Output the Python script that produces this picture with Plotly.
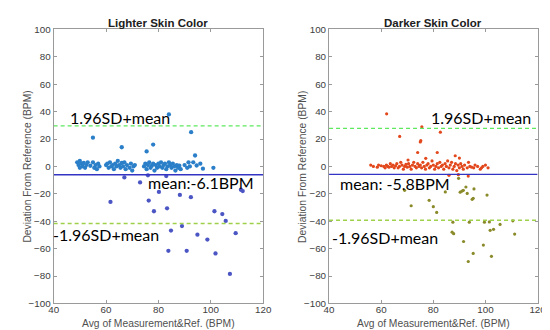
import plotly.graph_objects as go

# ---------------- data ----------------
# Lighter skin: points above the mean line
light_hi_x = [84, 55, 92.5, 66, 78, 75.5, 94, 93.3, 91.5, 94.6, 97, 101,
              49, 49.5, 50, 50.5, 51, 51.5, 52, 52.5, 53, 50, 54,
              55, 55.5, 56, 56.5, 57, 57.5,
              60, 60.5, 61, 61.5, 62, 62.5, 63, 63.5, 64,
              64.5, 65, 65.5, 66, 66.5, 67, 67.5, 68, 69, 69.5, 70, 70.5, 71,
              74.5, 75, 75.5, 76, 76.5, 77, 77.5, 78, 78.5, 79, 79.5, 80, 80.5, 81,
              81.5, 82, 82.5, 83, 83.5, 84, 84.5, 85, 85.5, 86, 86.5, 87, 87.5, 88, 88.5,
              90, 91, 92, 96]
light_hi_y = [38, 21, 25, 14, 16, 11, 8, 3, 3, 0.7, -1.6, -1,
              3, 1, 4, 2, 0, 2.5, -1, 1, 3, -1, 0.5,
              3, -1, 1, -2, 2, 0,
              1, 2, -1, 3, 0, 1, -2, 2, 0,
              4, 1, -1, 2.5, 0, 3, -2, 1, -1, 2, -3, 0, 1,
              0, 2, -2, 1, 3, -1, 0.5, 2, -3, 1, -1, 2, 0, 3,
              -1, 1, 2, -2, 0, 3, 1, -1, 2, 0, -3, 1, -1, 0.5, -2,
              1, -1, 0, 2]
# Lighter skin: points below the mean line
light_lo_x = [67, 73, 76, 83, 61.7, 76.3, 80.2, 88.2, 92.4, 78.3, 83.3, 101.4,
              104.4, 105.7, 111.5, 112.2, 84.8, 89, 83.8, 90.8, 94.9, 98.7, 101.8,
              109.5, 107.3]
light_lo_y = [-8, -11.7, -6.5, -7, -25.9, -24.9, -18.6, -20.8, -22.4, -32.7, -30.6, -32.7,
              -34.8, -39.8, -17, -18, -46.8, -43.5, -61.6, -61.6, -49.8, -53.4, -63.5,
              -48.7, -78.5]

# Darker skin: points above the mean line
dark_hi_x = [62.1, 75.6, 67.1, 82.7, 75.2, 75, 74, 81.5, 88.4, 90, 77.1, 70.3,
             56, 57, 58.5, 59, 60,
             61, 61.5, 62, 62.5, 63, 63.5, 64, 64.5, 65,
             65.5, 66, 66.5, 67, 67.5, 68, 68.5, 69, 69.5, 70,
             70.5, 71, 71.5, 72, 72.5, 73, 73.5, 74, 74.5, 75,
             75.5, 76, 76.5, 77, 77.5, 78, 78.5, 79, 79.5, 80,
             80.5, 81, 81.5, 82, 82.5, 83, 83.5, 84, 84.5, 85, 85.5,
             86, 86.5, 87, 87.5, 88, 88.5, 89, 89.5, 90, 90.5,
             91, 91.5, 92, 93, 93.5, 94,
             94.7, 95.5, 96, 97, 98, 98.5, 99, 100, 101,
             86, 89.6, 93.4]
dark_hi_y = [38.4, 28.9, 21.9, 25, 18.8, 17.9, 10.2, 10.2, 7.8, 6.1, 5.9, 4.7,
             1, 0, -0.5, 1, 0.5,
             0, -1, 1, 0, -0.5, 2, 0, 1, -1,
             0.5, 2, -1, 0, 3, 1, -2, 0, 1.5, -0.5,
             2, 0, -2, 1, 3, 0, -1, 2, 0, 1,
             -1, 3, 0, -2, 1, 2, -1, 0, 4, 1,
             -2, 0, 2, -1, 3, 0, 1, -2, 2, 0, 4,
             -1, 1, 3, -2, 0, 2, -3, 1, -1, 2,
             0, -2, 1, -1, 3, 0,
             -0.5, -1, 1, 0, -2, -1, 0, 1, -1,
             -6.5, -6, -7]
# Darker skin: points below the mean line
dark_lo_x = [89.7, 69, 84.6, 90.3, 91, 91.5, 92.5, 95.6, 93, 100.6, 94.9, 95.3,
             71.5, 78.4, 80, 81.3, 87.5, 93.8, 99.6, 101.5, 105.6, 110.5,
             87.2, 87.8, 101.8, 103.1, 111.2, 91.6, 99.2, 95.3, 102.3, 93.4]
dark_lo_y = [-8.7, -17.4, -18.6, -18.8, -18, -17.4, -15, -16.4, -19.7, -20.9, -24, -23.3,
             -28.7, -24.7, -29.4, -33.6, -40.7, -40.7, -40.7, -40.5, -42.3, -39.7,
             -48, -49.1, -46.6, -45.9, -49.4, -54.8, -57.4, -63.5, -65.6, -69.4]

light_stats = {"mean": -6.1, "upper": 29.6, "lower": -41.6}
dark_stats = {"mean": -5.8, "upper": 27.8, "lower": -39.3}

x_ticks = [40, 60, 80, 100, 120]
y_ticks = [-100, -80, -60, -40, -20, 0, 20, 40, 60, 80, 100]

titles = ["Lighter Skin Color", "Darker Skin Color"]
x_label = "Avg of Measurement&Ref. (BPM)"
y_label = "Deviation From Reference (BPM)"

# ---------------- figure ----------------
fig = go.Figure()

dom_left = [41.7 / 550, 256.7 / 550]
dom_right = [324.3 / 550, 538.3 / 550]
ydom = [1 - 299.4 / 330, 1 - 16 / 330]

fig.add_trace(go.Scatter(x=light_hi_x, y=light_hi_y, mode="markers", xaxis="x", yaxis="y",
                         marker=dict(size=4.3, color="#2a7fc8"), showlegend=False))
fig.add_trace(go.Scatter(x=light_lo_x, y=light_lo_y, mode="markers", xaxis="x", yaxis="y",
                         marker=dict(size=4.3, color="#4b56c4"), showlegend=False))
fig.add_trace(go.Scatter(x=dark_hi_x, y=dark_hi_y, mode="markers", xaxis="x2", yaxis="y2",
                         marker=dict(size=3.2, color="#e2481c"), showlegend=False))
fig.add_trace(go.Scatter(x=dark_lo_x, y=dark_lo_y, mode="markers", xaxis="x2", yaxis="y2",
                         marker=dict(size=3.2, color="#8a8a2a"), showlegend=False))

for xa, ya, st in [("x", "y", light_stats), ("x2", "y2", dark_stats)]:
    fig.add_trace(go.Scatter(x=[40, 120], y=[st["upper"]] * 2, mode="lines", xaxis=xa, yaxis=ya,
                             line=dict(color="#5ee85e", width=1.4, dash="4px,3px"), showlegend=False))
    fig.add_trace(go.Scatter(x=[40, 120], y=[st["lower"]] * 2, mode="lines", xaxis=xa, yaxis=ya,
                             line=dict(color="#9ed04a", width=1.4, dash="4px,3px"), showlegend=False))
    fig.add_trace(go.Scatter(x=[40, 120], y=[st["mean"]] * 2, mode="lines", xaxis=xa, yaxis=ya,
                             line=dict(color="#3434c4", width=1.4), showlegend=False))

axis_common = dict(showgrid=False, zeroline=False, showline=True, linecolor="#9a9a9a", linewidth=1,
                   mirror="ticks", ticks="inside", ticklen=3, tickcolor="#9a9a9a",
                   tickfont=dict(family="Liberation Sans, Arial", size=9.8, color="#404040"))

fig.update_layout(
    width=550, height=330,
    margin=dict(l=0, r=0, t=0, b=0),
    paper_bgcolor="white", plot_bgcolor="white",
    xaxis=dict(domain=dom_left, range=[40, 120], tickvals=x_ticks, anchor="y",
               ticklabelstandoff=-3, **axis_common),
    yaxis=dict(domain=ydom, range=[-100, 100], tickvals=y_ticks, anchor="x", **axis_common),
    xaxis2=dict(domain=dom_right, range=[40, 120], tickvals=x_ticks, anchor="y2",
                ticklabelstandoff=-3, **axis_common),
    yaxis2=dict(domain=ydom, range=[-100, 100], tickvals=y_ticks, anchor="x2", **axis_common),
)

big = dict(family="Lato, Carlito, sans-serif", size=16, color="black")
small_lbl = dict(family="Liberation Sans, Arial", size=10.3, color="#505050")
title_font = dict(family="Liberation Sans, Arial", size=11.5, color="#202020")

ann = []
# panel titles
ann.append(dict(text="<b>" + titles[0] + "</b>", x=149.2 / 550, y=1 - 9 / 330, xref="paper", yref="paper",
                showarrow=False, font=title_font, xanchor="center", yanchor="middle"))
ann.append(dict(text="<b>" + titles[1] + "</b>", x=431.3 / 550, y=1 - 9 / 330, xref="paper", yref="paper",
                showarrow=False, font=title_font, xanchor="center", yanchor="middle"))
# axis labels
for cx in [149.2, 431.3]:
    ann.append(dict(text=x_label, x=cx / 550, y=1 - 320.5 / 330, xref="paper", yref="paper",
                    showarrow=False, font=small_lbl, xanchor="center", yanchor="middle"))
for cx in [14.5, 297]:
    ann.append(dict(text=y_label, x=cx / 550, y=1 - 157.7 / 330, xref="paper", yref="paper",
                    showarrow=False, font=small_lbl, xanchor="center", yanchor="middle", textangle=-90))
# statistic labels (paper coordinates, left edge / vertical centre in pixels)
stat_labels = [
    ("1.96SD+mean", 56.7, 107.3),
    ("mean:-6.1BPM", 136.7, 174.3),
    ("-1.96SD+mean", 39.5, 228.3),
    ("1.96SD+mean", 427.3, 107.3),
    ("mean: -5.8BPM", 333.0, 175.0),
    ("-1.96SD+mean", 325.0, 231.0),
]
for txt, px, py in stat_labels:
    ann.append(dict(text=txt, x=px / 550, y=1 - py / 330, xref="paper", yref="paper", showarrow=False,
                    font=big, xanchor="left", yanchor="middle"))
fig.update_layout(annotations=ann)

fig.write_html("out.html")
